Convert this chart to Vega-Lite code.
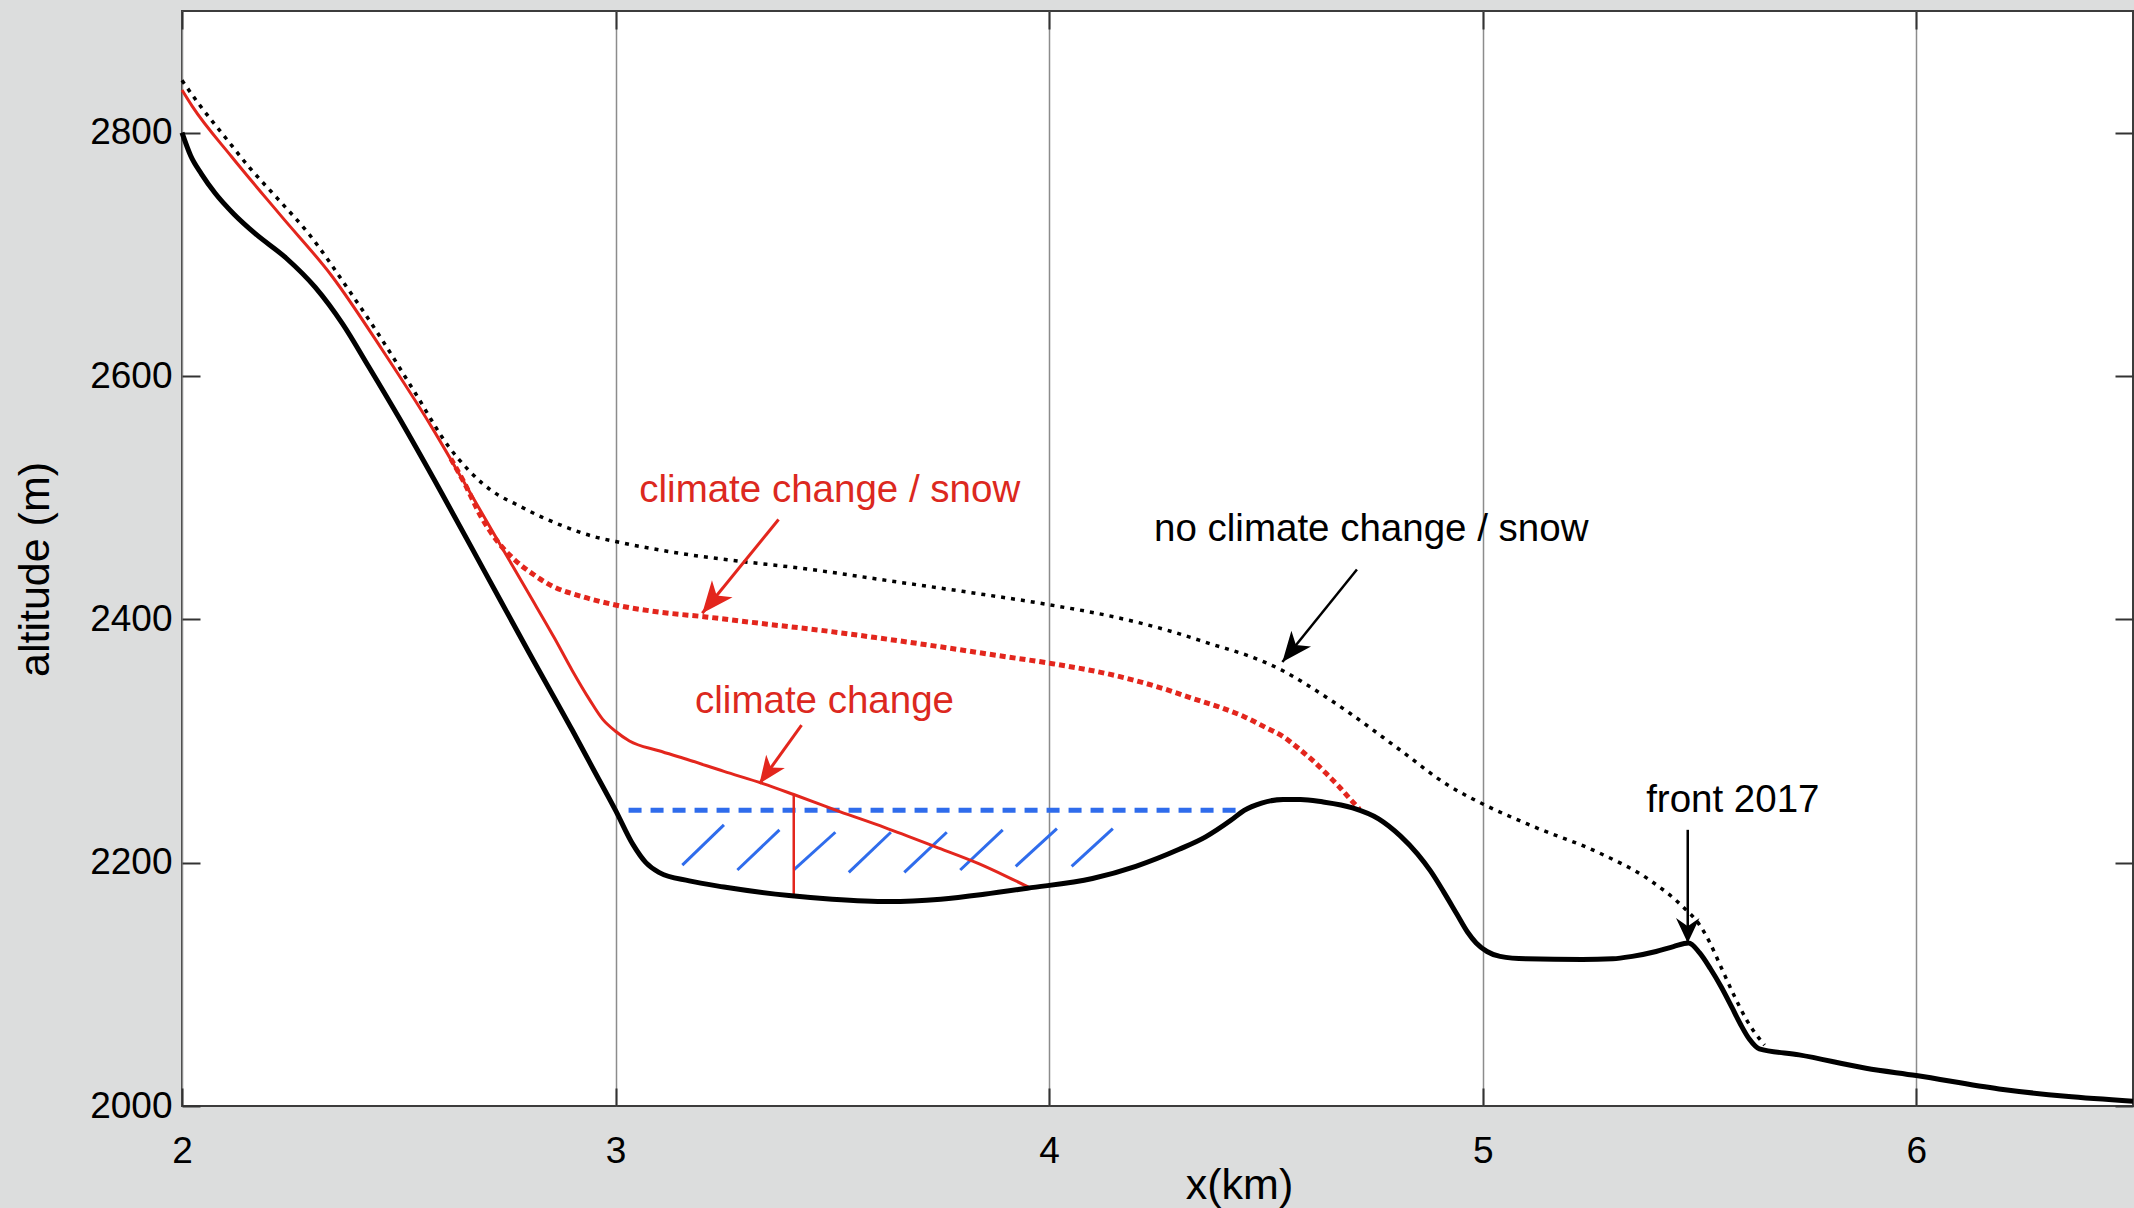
{
  "$schema": "https://vega.github.io/schema/vega-lite/v6.json",
  "width": 1951,
  "height": 1095,
  "autosize": {"type": "none"},
  "padding": {"left": 182, "top": 11, "right": 1, "bottom": 102},
  "background": "#dcdddd",
  "config": {
    "font": "Liberation Sans",
    "view": {"fill": "white", "stroke": "#3c3c3c", "strokeWidth": 2},
    "axis": {
      "labelFont": "Liberation Sans", "titleFont": "Liberation Sans",
      "labelColor": "black", "titleColor": "black", "titleFontWeight": "normal",
      "labelFontSize": 37, "titleFontSize": 43,
      "tickColor": "#333333", "tickWidth": 2, "tickSize": -18,
      "domain": false, "labelFlush": false, "labelOverlap": false
    }
  },
  "datasets": {
    "profiles": [
      {"s":"bed","x":2.0,"y":2800},{"s":"bed","x":2.02,"y":2781},{"s":"bed","x":2.045,"y":2766},{"s":"bed","x":2.077,"y":2750},{"s":"bed","x":2.12,"y":2733},{"s":"bed","x":2.169,"y":2717},{"s":"bed","x":2.24,"y":2697},{"s":"bed","x":2.307,"y":2673},{"s":"bed","x":2.37,"y":2643},{"s":"bed","x":2.43,"y":2608},{"s":"bed","x":2.5,"y":2566},{"s":"bed","x":2.6,"y":2503},{"s":"bed","x":2.7,"y":2438},{"s":"bed","x":2.8,"y":2373},{"s":"bed","x":2.9,"y":2309},{"s":"bed","x":2.95,"y":2276},{"s":"bed","x":3.0,"y":2243},{"s":"bed","x":3.04,"y":2215},{"s":"bed","x":3.07,"y":2200},{"s":"bed","x":3.1,"y":2192},{"s":"bed","x":3.17,"y":2185},{"s":"bed","x":3.25,"y":2180},{"s":"bed","x":3.4,"y":2173},{"s":"bed","x":3.5,"y":2170},{"s":"bed","x":3.63,"y":2168},{"s":"bed","x":3.75,"y":2170},{"s":"bed","x":3.85,"y":2174},{"s":"bed","x":3.95,"y":2179},{"s":"bed","x":4.1,"y":2187},{"s":"bed","x":4.2,"y":2197},{"s":"bed","x":4.3,"y":2211},{"s":"bed","x":4.36,"y":2221},{"s":"bed","x":4.42,"y":2235},{"s":"bed","x":4.45,"y":2243},{"s":"bed","x":4.49,"y":2249},{"s":"bed","x":4.54,"y":2252},{"s":"bed","x":4.58,"y":2252},{"s":"bed","x":4.63,"y":2250},{"s":"bed","x":4.7,"y":2245},{"s":"bed","x":4.76,"y":2236},{"s":"bed","x":4.81,"y":2222},{"s":"bed","x":4.85,"y":2207},{"s":"bed","x":4.88,"y":2193},{"s":"bed","x":4.91,"y":2176},{"s":"bed","x":4.94,"y":2158},{"s":"bed","x":4.965,"y":2143},{"s":"bed","x":4.985,"y":2134},{"s":"bed","x":5.01,"y":2127},{"s":"bed","x":5.04,"y":2123},{"s":"bed","x":5.1,"y":2121},{"s":"bed","x":5.23,"y":2120.5},{"s":"bed","x":5.3,"y":2121},{"s":"bed","x":5.345,"y":2123},{"s":"bed","x":5.4,"y":2127},{"s":"bed","x":5.44,"y":2131},{"s":"bed","x":5.475,"y":2134},{"s":"bed","x":5.5,"y":2126},{"s":"bed","x":5.525,"y":2113},{"s":"bed","x":5.55,"y":2098},{"s":"bed","x":5.575,"y":2081},{"s":"bed","x":5.595,"y":2067},{"s":"bed","x":5.615,"y":2055},{"s":"bed","x":5.638,"y":2047},{"s":"bed","x":5.73,"y":2042},{"s":"bed","x":5.884,"y":2031},{"s":"bed","x":6.0,"y":2025},{"s":"bed","x":6.191,"y":2014},{"s":"bed","x":6.345,"y":2008},{"s":"bed","x":6.5,"y":2004},
      {"s":"nocc","x":2.0,"y":2843},{"s":"nocc","x":2.038,"y":2824},{"s":"nocc","x":2.1,"y":2796},{"s":"nocc","x":2.154,"y":2772},{"s":"nocc","x":2.22,"y":2746},{"s":"nocc","x":2.292,"y":2717},{"s":"nocc","x":2.384,"y":2671},{"s":"nocc","x":2.461,"y":2630},{"s":"nocc","x":2.538,"y":2586},{"s":"nocc","x":2.615,"y":2542},{"s":"nocc","x":2.66,"y":2523},{"s":"nocc","x":2.692,"y":2512},{"s":"nocc","x":2.73,"y":2502},{"s":"nocc","x":2.768,"y":2495},{"s":"nocc","x":2.83,"y":2484},{"s":"nocc","x":2.884,"y":2476},{"s":"nocc","x":2.95,"y":2468},{"s":"nocc","x":3.0,"y":2464},{"s":"nocc","x":3.153,"y":2454},{"s":"nocc","x":3.258,"y":2449},{"s":"nocc","x":3.45,"y":2441},{"s":"nocc","x":3.625,"y":2432},{"s":"nocc","x":3.8,"y":2423},{"s":"nocc","x":4.0,"y":2412},{"s":"nocc","x":4.15,"y":2402},{"s":"nocc","x":4.273,"y":2391},{"s":"nocc","x":4.38,"y":2379},{"s":"nocc","x":4.46,"y":2370},{"s":"nocc","x":4.538,"y":2358},{"s":"nocc","x":4.6,"y":2345},{"s":"nocc","x":4.693,"y":2323},{"s":"nocc","x":4.808,"y":2293},{"s":"nocc","x":4.923,"y":2263},{"s":"nocc","x":4.996,"y":2249},{"s":"nocc","x":5.115,"y":2230},{"s":"nocc","x":5.269,"y":2208},{"s":"nocc","x":5.384,"y":2186},{"s":"nocc","x":5.461,"y":2164},{"s":"nocc","x":5.5,"y":2149},{"s":"nocc","x":5.523,"y":2135},{"s":"nocc","x":5.55,"y":2114},{"s":"nocc","x":5.577,"y":2093},{"s":"nocc","x":5.61,"y":2070},{"s":"nocc","x":5.65,"y":2050},
      {"s":"cc","x":2.0,"y":2835},{"s":"cc","x":2.023,"y":2822},{"s":"cc","x":2.115,"y":2780},{"s":"cc","x":2.23,"y":2731},{"s":"cc","x":2.346,"y":2682},{"s":"cc","x":2.461,"y":2622},{"s":"cc","x":2.576,"y":2558},{"s":"cc","x":2.65,"y":2513},{"s":"cc","x":2.72,"y":2470},{"s":"cc","x":2.8,"y":2421},{"s":"cc","x":2.86,"y":2384},{"s":"cc","x":2.9,"y":2358},{"s":"cc","x":2.94,"y":2334},{"s":"cc","x":2.97,"y":2318},{"s":"cc","x":3.0,"y":2308},{"s":"cc","x":3.032,"y":2300},{"s":"cc","x":3.1,"y":2292},{"s":"cc","x":3.164,"y":2285},{"s":"cc","x":3.25,"y":2275},{"s":"cc","x":3.34,"y":2265},{"s":"cc","x":3.411,"y":2256},{"s":"cc","x":3.517,"y":2242},{"s":"cc","x":3.62,"y":2229},{"s":"cc","x":3.738,"y":2213},{"s":"cc","x":3.839,"y":2199},{"s":"cc","x":3.9,"y":2189},{"s":"cc","x":3.952,"y":2180},
      {"s":"ccsnow","x":2.62,"y":2532},{"s":"ccsnow","x":2.65,"y":2513},{"s":"ccsnow","x":2.692,"y":2483},{"s":"ccsnow","x":2.73,"y":2463},{"s":"ccsnow","x":2.767,"y":2449},{"s":"ccsnow","x":2.81,"y":2437},{"s":"ccsnow","x":2.856,"y":2427},{"s":"ccsnow","x":2.92,"y":2419},{"s":"ccsnow","x":2.997,"y":2412},{"s":"ccsnow","x":3.1,"y":2406},{"s":"ccsnow","x":3.208,"y":2402},{"s":"ccsnow","x":3.35,"y":2396},{"s":"ccsnow","x":3.473,"y":2391},{"s":"ccsnow","x":3.6,"y":2385},{"s":"ccsnow","x":3.738,"y":2378},{"s":"ccsnow","x":3.886,"y":2370},{"s":"ccsnow","x":4.0,"y":2364},{"s":"ccsnow","x":4.15,"y":2354},{"s":"ccsnow","x":4.273,"y":2342},{"s":"ccsnow","x":4.331,"y":2335},{"s":"ccsnow","x":4.4,"y":2327},{"s":"ccsnow","x":4.45,"y":2320},{"s":"ccsnow","x":4.5,"y":2311},{"s":"ccsnow","x":4.538,"y":2304},{"s":"ccsnow","x":4.575,"y":2294},{"s":"ccsnow","x":4.608,"y":2284},{"s":"ccsnow","x":4.64,"y":2273},{"s":"ccsnow","x":4.67,"y":2262},{"s":"ccsnow","x":4.695,"y":2252},{"s":"ccsnow","x":4.716,"y":2244}
    ],
    "hatch": [
      {"x":3.154,"y":2198,"x2":3.25,"y2":2231},
      {"x":3.281,"y":2194,"x2":3.378,"y2":2227},
      {"x":3.411,"y":2194,"x2":3.507,"y2":2225},
      {"x":3.538,"y":2192,"x2":3.635,"y2":2225},
      {"x":3.666,"y":2192,"x2":3.764,"y2":2225},
      {"x":3.795,"y":2194,"x2":3.893,"y2":2227},
      {"x":3.923,"y":2197,"x2":4.018,"y2":2228},
      {"x":4.052,"y":2197,"x2":4.147,"y2":2228}
    ],
    "segs": [
      {"id":"lake","x":3.03,"y":2243,"x2":4.44,"y2":2243},
      {"id":"cut","x":3.411,"y":2256,"x2":3.411,"y2":2173}
    ],
    "arrows": [
      {"id":"ccsnow","x":3.2,"y":2405,"x2":3.376,"y2":2482},
      {"id":"cc","x":3.332,"y":2265,"x2":3.429,"y2":2313},
      {"id":"nocc","x":4.538,"y":2365,"x2":4.71,"y2":2441},
      {"id":"front","x":5.473,"y":2134,"x2":5.473,"y2":2227}
    ],
    "labels": [
      {"g":"red","text":"climate change / snow","x":3.494,"y":2496.6},
      {"g":"red","text":"climate change","x":3.482,"y":2323},
      {"g":"black","text":"no climate change / snow","x":4.743,"y":2464.5},
      {"g":"black","text":"front 2017","x":5.577,"y":2242}
    ]
  },
  "layer": [
    {
      "encoding": {
        "x": {"field": "x", "type": "quantitative",
          "scale": {"domain": [2, 6.5], "nice": false, "zero": false},
          "axis": {"orient": "bottom", "values": [2, 3, 4, 5, 6], "title": "x(km)",
            "grid": true, "gridColor": "#8c8c8c", "gridWidth": 1.5,
            "labelBaseline": "alphabetic", "labelPadding": 74,
            "titleX": 1057, "titleY": 92, "titleBaseline": "alphabetic", "titleAlign": "center"}},
        "y": {"field": "y", "type": "quantitative",
          "scale": {"domain": [2000, 2900], "nice": false, "zero": false},
          "axis": {"orient": "left", "values": [2000, 2200, 2400, 2600, 2800], "format": "d",
            "title": "altitude (m)", "grid": false, "labelPadding": 28,
            "titleX": -134, "titleY": 558, "titleAngle": 270, "titleBaseline": "alphabetic", "titleAlign": "center"}}
      },
      "layer": [
        {"data": {"name": "hatch"}, "mark": {"type": "rule", "color": "#2f6cec", "strokeWidth": 3},
         "encoding": {"x2": {"field": "x2"}, "y2": {"field": "y2"}}},
        {"data": {"name": "segs"}, "transform": [{"filter": "datum.id == 'lake'"}],
         "mark": {"type": "rule", "color": "#2f6cec", "strokeWidth": 5, "strokeDash": [13, 9]},
         "encoding": {"x2": {"field": "x2"}, "y2": {"field": "y2"}}},
        {"data": {"name": "profiles"}, "transform": [{"filter": "datum.s == 'nocc'"}],
         "mark": {"type": "line", "color": "black", "strokeWidth": 3.5, "strokeDash": [4, 6], "interpolate": "monotone"},
         "encoding": {}},
        {"data": {"name": "profiles"}, "transform": [{"filter": "datum.s == 'ccsnow'"}],
         "mark": {"type": "line", "color": "#e3261d", "strokeWidth": 5, "strokeDash": [6, 4], "interpolate": "monotone"},
         "encoding": {}},
        {"data": {"name": "profiles"}, "transform": [{"filter": "datum.s == 'cc'"}],
         "mark": {"type": "line", "color": "#e3261d", "strokeWidth": 3, "interpolate": "monotone"},
         "encoding": {}},
        {"data": {"name": "segs"}, "transform": [{"filter": "datum.id == 'cut'"}],
         "mark": {"type": "rule", "color": "#e3261d", "strokeWidth": 2.5},
         "encoding": {"x2": {"field": "x2"}, "y2": {"field": "y2"}}},
        {"data": {"name": "profiles"}, "transform": [{"filter": "datum.s == 'bed'"}],
         "mark": {"type": "line", "color": "black", "strokeWidth": 5, "interpolate": "monotone"},
         "encoding": {}},
        {"data": {"name": "arrows"}, "transform": [{"filter": "datum.id == 'ccsnow' || datum.id == 'cc'"}],
         "mark": {"type": "rule", "color": "#e3261d", "strokeWidth": 3},
         "encoding": {"x2": {"field": "x2"}, "y2": {"field": "y2"}}},
        {"data": {"name": "arrows"}, "transform": [{"filter": "datum.id == 'nocc' || datum.id == 'front'"}],
         "mark": {"type": "rule", "color": "black", "strokeWidth": 2.5},
         "encoding": {"x2": {"field": "x2"}, "y2": {"field": "y2"}}},
        {"data": {"name": "arrows"}, "transform": [{"filter": "datum.id == 'ccsnow'"}],
         "mark": {"type": "point", "shape": "M0,0L-0.42,-1L0,-0.72L0.42,-1Z", "filled": true, "color": "#e3261d", "opacity": 1, "size": 4000, "angle": 39.2, "strokeWidth": 0},
         "encoding": {}},
        {"data": {"name": "arrows"}, "transform": [{"filter": "datum.id == 'cc'"}],
         "mark": {"type": "point", "shape": "M0,0L-0.42,-1L0,-0.72L0.42,-1Z", "filled": true, "color": "#e3261d", "opacity": 1, "size": 3000, "angle": 35.8, "strokeWidth": 0},
         "encoding": {}},
        {"data": {"name": "arrows"}, "transform": [{"filter": "datum.id == 'nocc'"}],
         "mark": {"type": "point", "shape": "M0,0L-0.42,-1L0,-0.72L0.42,-1Z", "filled": true, "color": "black", "opacity": 1, "size": 3600, "angle": 38.9, "strokeWidth": 0},
         "encoding": {}},
        {"data": {"name": "arrows"}, "transform": [{"filter": "datum.id == 'front'"}],
         "mark": {"type": "point", "shape": "M0,0L-0.47,-1L0,-0.67L0.47,-1Z", "filled": true, "color": "black", "opacity": 1, "size": 2500, "angle": 0, "strokeWidth": 0},
         "encoding": {}},
        {"data": {"name": "labels"}, "transform": [{"filter": "datum.g == 'red'"}],
         "mark": {"type": "text", "color": "#dc2820", "fontSize": 38.5, "align": "center", "baseline": "alphabetic", "font": "Liberation Sans"},
         "encoding": {"text": {"field": "text"}}},
        {"data": {"name": "labels"}, "transform": [{"filter": "datum.g == 'black'"}],
         "mark": {"type": "text", "color": "black", "fontSize": 38.5, "align": "center", "baseline": "alphabetic", "font": "Liberation Sans"},
         "encoding": {"text": {"field": "text"}}}
      ]
    },
    {
      "data": {"name": "profiles"},
      "transform": [{"filter": "datum.s == 'bed'"}],
      "mark": {"type": "point", "opacity": 0},
      "encoding": {
        "x": {"field": "x", "type": "quantitative",
          "axis": {"orient": "top", "values": [2, 3, 4, 5, 6], "labels": false, "title": null, "grid": false}},
        "y": {"field": "y", "type": "quantitative",
          "axis": {"orient": "right", "values": [2000, 2200, 2400, 2600, 2800], "labels": false, "title": null, "grid": false}}
      }
    }
  ],
  "resolve": {"axis": {"x": "independent", "y": "independent"}}
}
